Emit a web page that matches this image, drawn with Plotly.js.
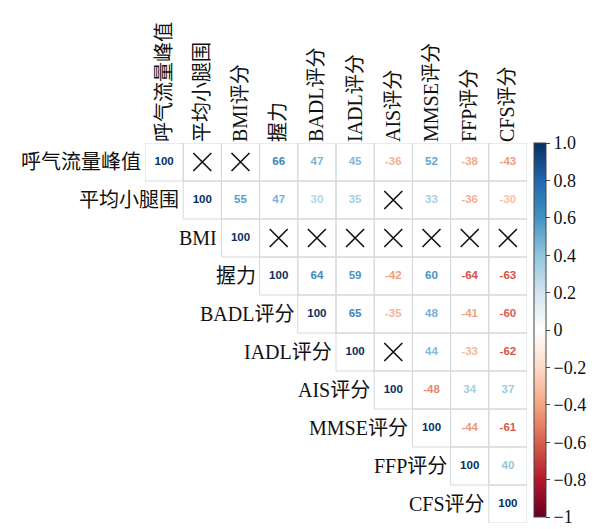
<!DOCTYPE html>
<html>
<head>
<meta charset="utf-8">
<script src="https://cdn.plot.ly/plotly-3.0.1.min.js"></script>
<style>html,body{margin:0;padding:0;background:#fff;}#chart{width:594px;height:529px;}</style>
</head>
<body>
<div id="chart"></div>
<script>
// Column (top) labels and row (left) labels
const colLabels = ['呼气流量峰值','平均小腿围','BMI评分','握力','BADL评分','IADL评分','AIS评分','MMSE评分','FFP评分','CFS评分'];
const rowLabels = ['呼气流量峰值','平均小腿围','BMI','握力','BADL评分','IADL评分','AIS评分','MMSE评分','FFP评分','CFS评分'];

// Upper-triangle correlations (x100), each row starting at the diagonal; null = not significant (X)
const r0 = [100, null, null, 66, 47, 45, -36, 52, -38, -43];
const r1 = [100, 55, 47, 30, 35, null, 33, -36, -30];
const r2 = [100, null, null, null, null, null, null, null];
const r3 = [100, 64, 59, -42, 60, -64, -63];
const r4 = [100, 65, -35, 48, -41, -60];
const r5 = [100, null, 44, -33, -62];
const r6 = [100, -48, 34, 37];
const r7 = [100, -44, -61];
const r8 = [100, 40];
const r9 = [100];
const rows = [r0, r1, r2, r3, r4, r5, r6, r7, r8, r9];

// Colorbar ticks
const cbTickVals = [1, 0.8, 0.6, 0.4, 0.2, 0, -0.2, -0.4, -0.6, -0.8, -1];
const cbTickText = ['1.0', '0.8', '0.6', '0.4', '0.2', '0', '−0.2', '−0.4', '−0.6', '−0.8', '−1'];

// corrplot RdBu palette from -1 to 1
const palette = ['#67001F','#B2182B','#D6604D','#F4A582','#FDDBC7','#FFFFFF','#D1E5F0','#92C5DE','#4393C3','#2166AC','#053061'];
const colorscale = palette.map((c, k) => [k / (palette.length - 1), c]);

function hex2rgb(h){ return [parseInt(h.substr(1,2),16), parseInt(h.substr(3,2),16), parseInt(h.substr(5,2),16)]; }
function colorFor(v){
  const t = (v + 1) / 2 * (palette.length - 1);
  const k = Math.min(Math.floor(t), palette.length - 2);
  const f = t - k;
  const a = hex2rgb(palette[k]), b = hex2rgb(palette[k+1]);
  const c = a.map((x, m) => Math.round(x + (b[m] - x) * f));
  return 'rgb(' + c.join(',') + ')';
}

const n = colLabels.length;
const tx = [], ty = [], tt = [], tc = [];
const xx = [], xy = [];
const shapes = [];
for (let i = 0; i < n; i++) {
  for (let j = i; j < n; j++) {
    const v = rows[i][j - i];
    shapes.push({type:'rect', xref:'x', yref:'y', x0:j-0.5, x1:j+0.5, y0:i-0.5, y1:i+0.5,
      line:{color:'#d4d8dc', width:1}, fillcolor:'rgba(0,0,0,0)', layer:'below'});
    if (v === null) { xx.push(j); xy.push(i); }
    else { tx.push(j); ty.push(i); tt.push('<b>' + v + '</b>'); tc.push(colorFor(v / 100)); }
  }
}

const annotations = rowLabels.map((lab, i) => ({
  x: i - 0.5, y: i, xref:'x', yref:'y', text: lab, showarrow:false,
  xanchor:'right', yanchor:'middle', xshift:-2,
  font:{family:'Liberation Serif, Noto Sans CJK SC, serif', size:20, color:'#111'}
}));

const traces = [
  {type:'scatter', mode:'text', x:tx, y:ty, text:tt,
   textfont:{family:'Liberation Sans, Arial, sans-serif', size:11.5, color:tc},
   hoverinfo:'skip', showlegend:false},
  {type:'scatter', mode:'markers', x:xx, y:xy,
   marker:{symbol:'x-thin-open', size:18, line:{color:'#111', width:1.6}, color:'#111'},
   hoverinfo:'skip', showlegend:false},
  {type:'scatter', mode:'markers', x:[0], y:[0],
   marker:{color:[0], cmin:-1, cmax:1, colorscale:colorscale, opacity:0, size:1, showscale:true,
     colorbar:{x:1.018, xanchor:'left', y:1, yanchor:'top', len:0.985, lenmode:'fraction',
       thickness:12, thicknessmode:'pixels', xpad:0, ypad:0, outlinewidth:1, outlinecolor:'#444',
       ticks:'outside', ticklen:4, tickcolor:'#444', tickvals:cbTickVals, ticktext:cbTickText,
       ticklabeloverflow:'allow',
       tickfont:{family:'Liberation Serif, serif', size:18, color:'#111'}}},
   hoverinfo:'skip', showlegend:false}
];

const layout = {
  width:594, height:529,
  margin:{l:145, r:67, t:143, b:6},
  paper_bgcolor:'#fff', plot_bgcolor:'#fff',
  xaxis:{range:[-0.5, n-0.5], side:'top', tickvals:[...Array(n).keys()], ticktext:colLabels,
    tickangle:-90, showgrid:false, zeroline:false, showline:false, ticks:'',
    tickfont:{family:'Liberation Serif, Noto Sans CJK SC, serif', size:20, color:'#111'}, fixedrange:true},
  yaxis:{range:[n-0.5, -0.5], showticklabels:false, showgrid:false, zeroline:false, showline:false, ticks:'', fixedrange:true},
  shapes:shapes, annotations:annotations, showlegend:false
};

Plotly.newPlot('chart', traces, layout, {displayModeBar:false, staticPlot:true});
</script>
</body>
</html>
